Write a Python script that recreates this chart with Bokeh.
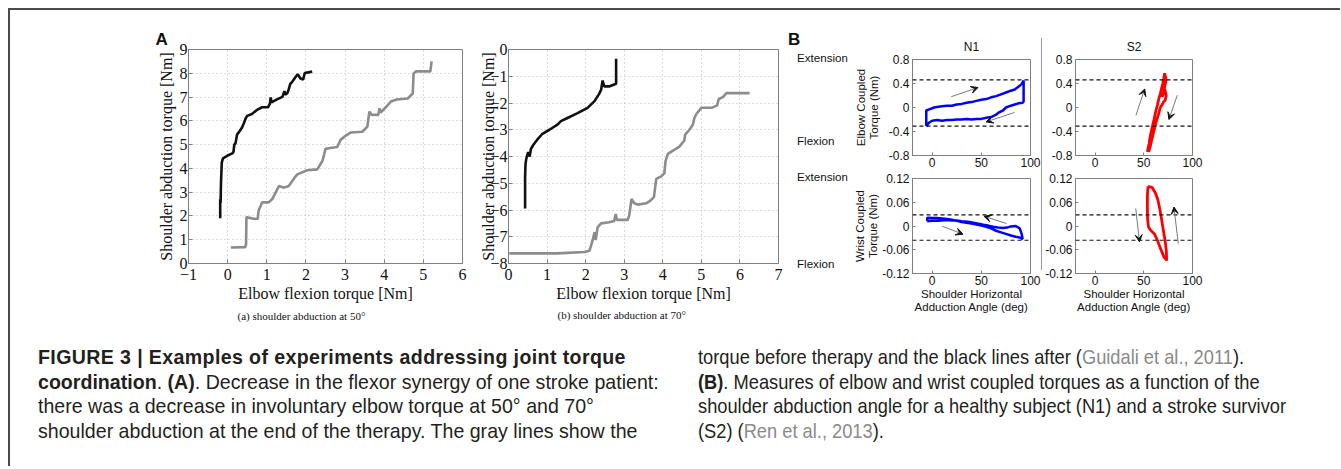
from bokeh.plotting import figure
from bokeh.models import Arrow, VeeHead, Span, FixedTicker, Div, Spacer, Title
from bokeh.layouts import row, column
from bokeh.embed import file_html
from bokeh.resources import INLINE

# ---------------- data ----------------
# Panel A (a): shoulder abduction at 50 deg
a50_after_x = [-0.19, -0.19, -0.18, -0.17, -0.15, -0.12, 0.00, 0.12, 0.15, 0.17, 0.20, 0.24, 0.30, 0.36, 0.41, 0.46, 0.50, 0.62, 0.75, 0.88, 1.03, 1.08, 1.10, 1.12, 1.26, 1.40, 1.45, 1.47, 1.52, 1.56, 1.60, 1.65, 1.74, 1.79, 1.86, 1.93, 1.97, 2.16]
a50_after_y = [1.90, 2.70, 2.55, 3.40, 4.24, 4.42, 4.54, 4.63, 4.70, 5.00, 5.05, 5.42, 5.55, 5.70, 5.88, 6.10, 6.21, 6.29, 6.46, 6.57, 6.57, 6.72, 6.98, 6.78, 6.90, 7.01, 7.25, 7.10, 7.15, 7.32, 7.55, 7.64, 7.85, 7.96, 7.78, 7.74, 8.01, 8.07]
a50_before_x = [0.08, 0.45, 0.47, 0.48, 0.50, 0.67, 0.77, 0.79, 0.88, 1.05, 1.14, 1.31, 1.44, 1.56, 1.71, 1.78, 2.03, 2.29, 2.42, 2.46, 2.50, 2.62, 2.80, 2.89, 3.02, 3.15, 3.44, 3.57, 3.62, 3.68, 3.85, 3.88, 3.91, 4.04, 4.17, 4.32, 4.60, 4.73, 4.75, 4.81, 5.18, 5.21]
a50_before_y = [0.67, 0.69, 0.80, 1.94, 1.94, 1.88, 1.88, 2.22, 2.57, 2.57, 2.71, 3.26, 3.19, 3.26, 3.61, 3.75, 3.92, 3.96, 4.31, 4.55, 4.82, 4.86, 4.90, 5.21, 5.38, 5.51, 5.54, 5.76, 6.39, 6.25, 6.25, 6.53, 6.35, 6.57, 6.81, 6.90, 6.94, 7.15, 7.99, 8.08, 8.08, 8.50]

# Panel A (b): shoulder abduction at 70 deg
a70_after_x = [0.43, 0.43, 0.44, 0.46, 0.51, 0.55, 0.58, 0.65, 0.74, 0.88, 1.06, 1.27, 1.36, 1.53, 1.79, 2.05, 2.23, 2.35, 2.40, 2.44, 2.48, 2.61, 2.79, 2.79]
a70_after_y = [-5.94, -4.78, -4.30, -4.09, -3.84, -4.00, -3.72, -3.55, -3.38, -3.15, -3.00, -2.81, -2.68, -2.56, -2.38, -2.18, -1.93, -1.66, -1.51, -1.16, -1.38, -1.38, -1.28, -0.35]
a70_before_x = [0.02, 1.27, 1.97, 2.10, 2.14, 2.19, 2.23, 2.26, 2.31, 2.40, 2.61, 2.74, 2.78, 2.81, 3.09, 3.13, 3.19, 3.26, 3.35, 3.57, 3.68, 3.77, 3.83, 3.96, 4.04, 4.07, 4.13, 4.43, 4.56, 4.58, 4.69, 4.78, 4.82, 4.87, 5.00, 5.27, 5.41, 5.45, 5.56, 5.65, 6.25]
a70_before_y = [-7.62, -7.62, -7.57, -7.52, -7.33, -7.08, -6.83, -7.12, -6.65, -6.50, -6.46, -6.41, -6.15, -6.37, -6.37, -6.21, -5.59, -5.75, -5.80, -5.75, -5.65, -5.52, -4.84, -4.74, -4.63, -4.18, -3.90, -3.63, -3.40, -3.18, -3.00, -2.81, -2.56, -2.41, -2.18, -2.18, -2.09, -1.85, -1.78, -1.63, -1.63]

a50_xticks = [-1, 0, 1, 2, 3, 4, 5, 6]
a50_yticks = [0, 1, 2, 3, 4, 5, 6, 7, 8, 9]
a70_xticks = [0, 1, 2, 3, 4, 5, 6, 7]
a70_yticks = [-8, -7, -6, -5, -4, -3, -2, -1, 0]

# Panel B: coupled torques vs shoulder horizontal adduction angle
n1_elbow_x = [-6, -6, -3, 2, 5, 10, 15, 20, 25, 30, 35, 40, 45, 50, 55, 60, 65, 70, 75, 80, 84, 88, 91, 93, 93, 92, 88, 84, 80, 75, 72, 68, 65, 60, 55, 50, 45, 40, 35, 30, 25, 20, 15, 10, 5, 0, -3, -6]
n1_elbow_y = [-0.31, -0.05, -0.03, 0.00, 0.01, 0.02, 0.03, 0.03, 0.05, 0.06, 0.08, 0.09, 0.11, 0.13, 0.14, 0.17, 0.19, 0.22, 0.25, 0.28, 0.30, 0.35, 0.39, 0.45, 0.10, 0.08, 0.07, 0.05, 0.03, 0.00, -0.05, -0.08, -0.12, -0.16, -0.17, -0.19, -0.19, -0.20, -0.19, -0.20, -0.20, -0.21, -0.21, -0.22, -0.21, -0.22, -0.25, -0.31]
s2_elbow_x = [53.7, 55.5, 57.0, 58.8, 60.5, 62.5, 64.0, 65.5, 66.7, 68.0, 69.5, 70.5, 71.4, 72.5, 72.8, 71.5, 70.5, 69.0, 68.5, 70.0, 72.0, 73.0, 72.0, 70.5, 69.0, 67.0, 65.0, 62.5, 60.0, 58.0, 56.5, 55.0]
s2_elbow_y = [-0.74, -0.60, -0.45, -0.32, -0.20, -0.05, 0.04, 0.15, 0.21, 0.30, 0.40, 0.48, 0.57, 0.50, 0.45, 0.35, 0.25, 0.18, 0.28, 0.35, 0.28, 0.20, 0.12, 0.10, 0.05, 0.00, -0.12, -0.25, -0.42, -0.55, -0.66, -0.74]
n1_wrist_x = [-5, -5, 0, 5, 10, 15, 20, 25, 30, 35, 40, 45, 50, 55, 60, 65, 70, 75, 80, 85, 89, 92, 91, 89, 85, 80, 76, 72, 67, 62, 57, 52, 47, 42, 36, 30, 25, 20, 15, 10, 5, 0, -5]
n1_wrist_y = [0.012, 0.021, 0.020, 0.020, 0.019, 0.018, 0.016, 0.013, 0.010, 0.008, 0.006, 0.004, 0.001, -0.002, -0.006, -0.012, -0.016, -0.020, -0.024, -0.027, -0.029, -0.033, -0.020, -0.006, 0.000, -0.001, -0.004, -0.005, -0.004, -0.002, 0.001, 0.003, 0.006, 0.008, 0.011, 0.012, 0.014, 0.014, 0.015, 0.014, 0.013, 0.013, 0.012]
s2_wrist_x = [54.4, 56.5, 58.8, 62.2, 64.6, 66.7, 68.4, 70.1, 71.8, 73.1, 73.5, 73.1, 70.7, 66.7, 64.0, 61.2, 57.1, 54.8, 53.9, 53.7, 53.8, 54.4]
s2_wrist_y = [0.100, 0.099, 0.097, 0.082, 0.065, 0.040, 0.015, -0.011, -0.036, -0.061, -0.085, -0.086, -0.078, -0.054, -0.036, -0.021, -0.011, -0.002, 0.020, 0.048, 0.080, 0.100]

b_xticks = [0, 50, 100]
elbow_yticks = [-0.8, -0.4, 0, 0.4, 0.8]
elbow_ylabels = ["-0.8", "-0.4", "0", "0.4", "0.8"]
wrist_yticks = [-0.12, -0.06, 0, 0.06, 0.12]
wrist_ylabels = ["-0.12", "-0.06", "0", "0.06", "0.12"]
elbow_limits = [0.46, -0.31]
wrist_limits = [0.028, -0.036]

# arrows: (x_start, y_start, x_end, y_end)
n1_elbow_arrows = [(19.4, 0.18, 46.6, 0.333), (83.7, -0.083, 54.8, -0.24)]
s2_elbow_arrows = [(42.0, -0.13, 51.0, 0.31), (84.4, 0.205, 75.8, -0.20)]
n1_wrist_arrows = [(75.5, 0.0063, 52.7, 0.0247), (10.2, -0.0005, 31.3, -0.0207)]
s2_wrist_arrows = [(41.8, 0.044, 45.6, -0.040), (85.4, -0.0444, 81.0, 0.048)]

# ---------------- styling helpers ----------------
SERIF = "Liberation Serif"
SANS = "Liberation Sans"
BOX = "#808080"
INK = "#111111"


def base_fig(width, height, xr, yr, mbl, mbr, mbt, mbb):
    p = figure(width=width, height=height, x_range=xr, y_range=yr,
               output_backend="svg", toolbar_location=None,
               min_border_left=mbl, min_border_right=mbr,
               min_border_top=mbt, min_border_bottom=mbb)
    p.outline_line_color = BOX
    p.outline_line_width = 1
    p.background_fill_color = "white"
    p.border_fill_color = "white"
    for ax in (p.xaxis[0], p.yaxis[0]):
        ax.axis_line_color = BOX
        ax.major_tick_line_color = BOX
        ax.major_tick_in = 4
        ax.major_tick_out = 0
        ax.minor_tick_line_color = None
        ax.major_label_text_color = INK
        ax.axis_label_text_font_style = "normal"
        ax.axis_label_text_color = INK
    return p


def title(text, font, size, align="left", offset=0, standoff=0, bold=False):
    return Title(text=text, text_font=font, text_font_size=size, align=align, offset=offset,
                 standoff=standoff, text_font_style="bold" if bold else "normal", text_color=INK)


def panel_a(width, xr, yr, xt, yt, mbl, mbr, mbb, ylab_standoff):
    p = base_fig(width, 335, xr, yr, mbl, mbr, 39, mbb)
    p.xaxis.ticker = FixedTicker(ticks=xt)
    p.yaxis.ticker = FixedTicker(ticks=yt)
    for ax in (p.xaxis[0], p.yaxis[0]):
        ax.major_label_text_font = SERIF
        ax.major_label_text_font_size = "16px"
        ax.axis_label_text_font = SERIF
        ax.axis_label_text_font_size = "16px"
    p.xaxis.major_label_standoff = 5
    p.yaxis.major_label_standoff = 1
    p.xaxis.axis_label = "Elbow flexion torque [Nm]"
    p.yaxis.axis_label = "Shoulder abduction torque [Nm]"
    p.xaxis.axis_label_standoff = 2
    p.yaxis.axis_label_standoff = ylab_standoff
    p.grid.grid_line_color = "#b8b8b8"
    p.grid.grid_line_dash = "1 3"
    p.grid.grid_line_width = 1
    return p


# ---------------- Panel A ----------------
pa = panel_a(460, (-1, 6), (0, 9), a50_xticks, a50_yticks, 178, 8, 80, 2)
pa.line(a50_before_x, a50_before_y, line_color="#8c8c8c", line_width=2.6)
pa.line(a50_after_x, a50_after_y, line_color=INK, line_width=2.6)
pa.add_layout(title("A", SANS, "17px", align="left", offset=-33, standoff=2, bold=True), "above")
pa.add_layout(title("(a) shoulder abduction at 50°", SERIF, "11px", align="left", offset=49, standoff=7), "below")

pb = panel_a(315, (0, 7), (-8, 0), a70_xticks, a70_yticks, 38, 7, 82, -10)
pb.line(a70_before_x, a70_before_y, line_color="#8c8c8c", line_width=2.6)
pb.line(a70_after_x, a70_after_y, line_color=INK, line_width=2.6)
pb.add_layout(title("(b) shoulder abduction at 70°", SERIF, "11px", align="left", offset=49, standoff=5), "below")


# ---------------- Panel B ----------------
def panel_b(width, height, yr, yt, ylabels, mbl, mbr, mbt, mbb):
    p = base_fig(width, height, (-20, 100), yr, mbl, mbr, mbt, mbb)
    p.grid.visible = False
    p.xaxis.ticker = FixedTicker(ticks=b_xticks)
    p.yaxis.ticker = FixedTicker(ticks=yt)
    p.yaxis.major_label_overrides = dict(zip(yt, ylabels))
    for ax in (p.xaxis[0], p.yaxis[0]):
        ax.major_tick_in = 3
        ax.major_label_text_font = SANS
        ax.major_label_text_font_size = "12px"
        ax.axis_label_text_font = SANS
        ax.axis_label_text_font_size = "11.5px"
        ax.axis_label_text_line_height = 1.1
    p.xaxis.major_label_standoff = 2
    p.yaxis.major_label_standoff = 3
    return p


def add_limits(p, levels):
    for lv in levels:
        p.add_layout(Span(location=lv, dimension="width", line_color=INK,
                          line_width=1.2, line_dash="4 3"))


def add_arrows(p, arrows):
    for xs, ys, xe, ye in arrows:
        p.add_layout(Arrow(end=VeeHead(size=7, fill_color=INK, line_color=INK, line_width=1),
                           x_start=xs, y_start=ys, x_end=xe, y_end=ye,
                           line_color="#7a7a7a", line_width=1))


# N1 elbow (top-left)
n1e = panel_b(194, 162, (-0.8, 0.8), elbow_yticks, elbow_ylabels, 65, 11, 49, 17)
add_limits(n1e, elbow_limits)
n1e.line(n1_elbow_x, n1_elbow_y, line_color="#0000ff", line_width=2.5)
add_arrows(n1e, n1_elbow_arrows)
n1e.yaxis.axis_label = "Elbow Coupled\nTorque (Nm)"
n1e.yaxis.axis_label_standoff = 6
n1e.add_layout(title("N1", SANS, "12px", align="center", offset=2, standoff=11), "above")

# S2 elbow (top-right)
s2e = panel_b(298, 162, (-0.8, 0.8), elbow_yticks, elbow_ylabels, 31, 148, 49, 17)
add_limits(s2e, elbow_limits)
s2e.line(s2_elbow_x, s2_elbow_y, line_color="#ff0000", line_width=2.8)
add_arrows(s2e, s2_elbow_arrows)
s2e.add_layout(title("S2", SANS, "12px", align="center", offset=0, standoff=11), "above")

# N1 wrist (bottom-left)
n1w = panel_b(194, 173, (-0.12, 0.12), wrist_yticks, wrist_ylabels, 65, 11, 6, 72)
add_limits(n1w, wrist_limits)
n1w.line(n1_wrist_x, n1_wrist_y, line_color="#0000ff", line_width=2.5)
add_arrows(n1w, n1_wrist_arrows)
n1w.yaxis.axis_label = "Wrist Coupled\nTorque (Nm)"
n1w.yaxis.axis_label_standoff = 0
n1w.xaxis.axis_label = "Shoulder Horizontal\nAdduction Angle (deg)"
n1w.xaxis.axis_label_standoff = 0

# S2 wrist (bottom-right)
s2w = panel_b(298, 173, (-0.12, 0.12), wrist_yticks, wrist_ylabels, 31, 148, 6, 72)
add_limits(s2w, wrist_limits)
s2w.line(s2_wrist_x, s2_wrist_y, line_color="#ff0000", line_width=2.8)
add_arrows(s2w, s2_wrist_arrows)
s2w.xaxis.axis_label = "Shoulder Horizontal\nAdduction Angle (deg)"
s2w.xaxis.axis_label_standoff = 0

SIDE = "position:absolute; left:%dpx; top:%dpx; font-family:'Liberation Sans',Arial,sans-serif; font-size:%spx; line-height:%dpx; color:#111111; white-space:nowrap;%s"
side_html = ('<div style="position:relative; width:62px; height:335px;">'
             + f'<span style="{SIDE % (3, 21, "17", 17, " font-weight:bold;")}">B</span>'
             + f'<span style="{SIDE % (12, 42, "11.6", 12, "")}">Extension</span>'
             + f'<span style="{SIDE % (12, 125, "11.6", 12, "")}">Flexion</span>'
             + f'<span style="{SIDE % (12, 161, "11.6", 12, "")}">Extension</span>'
             + f'<span style="{SIDE % (12, 248, "11.6", 12, "")}">Flexion</span>'
             + '</div>')
side_labels = Div(text=side_html, width=62, height=335, margin=0)

separator = column(Spacer(width=1, height=28),
                   Div(text="", width=1, height=232, margin=0, styles={"background-color": "#9a9a9a"}),
                   Spacer(width=1, height=75), spacing=0)
panel_b_layout = row(side_labels, column(n1e, n1w, spacing=0), separator,
                     column(s2e, s2w, spacing=0), spacing=0)

# ---------------- caption ----------------
CAP_BASE = ("font-family: 'Liberation Sans', Arial, sans-serif; font-size: 21px; line-height: 24.6px;"
            " color: #231f20; white-space: nowrap; transform-origin: 0 0;")
GRAY = "color: #8a8a8a;"
BOLD1 = "letter-spacing: 0.4px;"
left_caption = (f'<div style="{CAP_BASE} transform: scaleX(0.933);">'
                f'<b style="{BOLD1}">FIGURE 3 | Examples of experiments addressing joint torque</b><br>'
                "<b>coordination</b>. <b>(A)</b>. Decrease in the flexor synergy of one stroke patient:<br>"
                "there was a decrease in involuntary elbow torque at 50° and 70°<br>"
                "shoulder abduction at the end of the therapy. The gray lines show the</div>")
right_caption = (f'<div style="{CAP_BASE} transform: scaleX(0.87);">'
                 f'torque before therapy and the black lines after (<span style="{GRAY}">Guidali et al., 2011</span>).<br>'
                 "<b>(B)</b>. Measures of elbow and wrist coupled torques as a function of the<br>"
                 "shoulder abduction angle for a healthy subject (N1) and a stroke survivor<br>"
                 f'(S2) (<span style="{GRAY}">Ren et al., 2013</span>).</div>')

caption = row(Spacer(width=28, height=123),
              Div(text=left_caption, width=650, height=123, margin=0),
              Spacer(width=10, height=123),
              Div(text=right_caption, width=642, height=123, margin=0),
              spacing=0)

content = column(row(pa, pb, panel_b_layout, spacing=0), caption, spacing=0)
top_line = Div(text="", width=1332, height=2, margin=0, styles={"background-color": "#4a4a4a"})
left_line = Div(text="", width=2, height=456, margin=0, styles={"background-color": "#4a4a4a"})
framed = column(top_line, row(left_line, content, spacing=0), spacing=0)
page = column(Spacer(width=1340, height=8), row(Spacer(width=8, height=458), framed, spacing=0), spacing=0)

open("out.html", "w").write(file_html(page, INLINE))
